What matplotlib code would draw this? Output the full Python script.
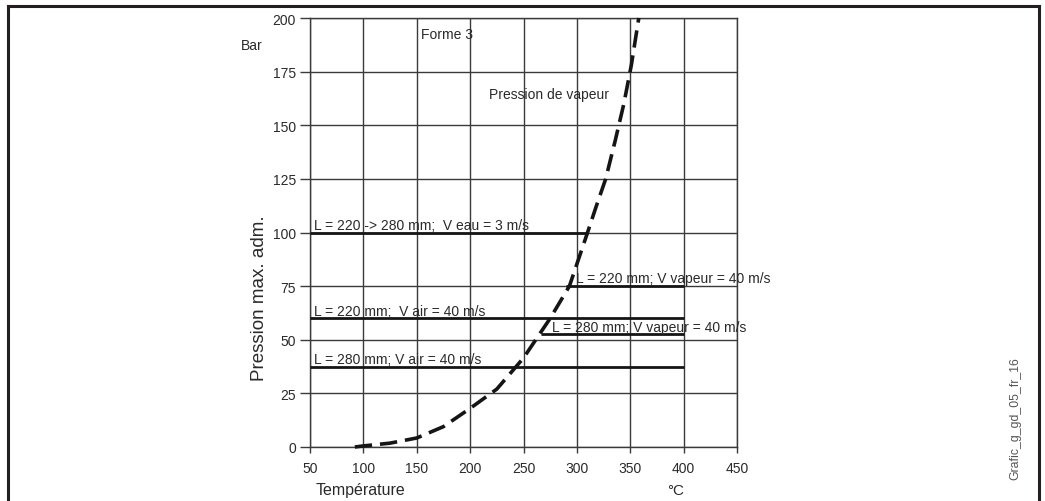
import matplotlib
matplotlib.use("Agg")
import matplotlib.pyplot as plt
from matplotlib.lines import Line2D

plt.rcParams['font.family'] = ['Liberation Sans', 'DejaVu Sans']

# ---- data ----
x_ticks = [50, 100, 150, 200, 250, 300, 350, 400, 450]
y_ticks = [0, 25, 50, 75, 100, 125, 150, 175, 200]

# vapour pressure curve
vap_temp = [92, 100, 125, 150, 175, 200, 225, 250, 275, 293, 310, 318, 327, 336, 344, 351, 358]
vap_pres = [0, 0.5, 1.8, 4.2, 9.5, 18, 27, 41.5, 60, 75, 100, 112, 125, 143, 160, 178, 200]

# horizontal limit lines: (start temp, end temp, pressure, label)
lim_start = [50, 290, 50, 266, 50]
lim_end = [310, 400, 400, 400, 400]
lim_pres = [100, 75, 60, 52.5, 37.5]
lim_labels = ["L = 220 -> 280 mm;  V eau = 3 m/s",
              "L = 220 mm; V vapeur = 40 m/s",
              "L = 220 mm;  V air = 40 m/s",
              "L = 280 mm; V vapeur = 40 m/s",
              "L = 280 mm; V air = 40 m/s"]
lim_label_x = [54, 299, 54, 277, 54]

W, H = 1045, 502
fig = plt.figure(figsize=(W / 100, H / 100), dpi=100)
ax = fig.add_axes([310 / W, 1 - 448 / H, 427 / W, 429 / H])

grid_c = '#3a3a3a'
txt_c = '#2a2a2a'
fs = 10

ax.set_xlim(50, 450)
ax.set_ylim(0, 200)
ax.set_xticks(x_ticks)
ax.set_yticks(y_ticks)
ax.grid(True, color=grid_c, linewidth=1.0)
ax.set_axisbelow(True)
for s in ax.spines.values():
    s.set_color(grid_c)
    s.set_linewidth(1.0)
ax.tick_params(axis='y', length=7, width=1.0, color=grid_c, pad=3,
               labelsize=fs, labelcolor=txt_c)
ax.tick_params(axis='x', length=4, width=1.0, color=grid_c, pad=6,
               labelsize=fs, labelcolor=txt_c)

for xs, xe, p, lab, lx in zip(lim_start, lim_end, lim_pres, lim_labels, lim_label_x):
    ax.plot([xs, xe], [p, p], color='#151515', linewidth=2.0, solid_capstyle='butt', zorder=3)
    ax.text(lx, p + 0.3, lab, fontsize=fs, color=txt_c, ha='left', va='bottom', zorder=4)

ax.plot(vap_temp, vap_pres, color='#151515', linewidth=2.6,
        dashes=(4.8, 2.2), zorder=5, clip_on=False)

ax.text(154, 192.5, "Forme 3", fontsize=fs, color=txt_c, ha='left', va='center')
ax.text(218, 164.5, "Pression de vapeur", fontsize=fs, color=txt_c, ha='left', va='center')

fig.text(252 / W, 1 - 46 / H, "Bar", fontsize=fs, color=txt_c, ha='center', va='center')
fig.text(259 / W, 1 - 298 / H, "Pression max. adm.", fontsize=13.5, color=txt_c,
         ha='center', va='center', rotation=90)
fig.text(360 / W, 1 - 491 / H, "Température", fontsize=11.5, color=txt_c, ha='center', va='center')
fig.text(676 / W, 1 - 491 / H, "°C", fontsize=11, color=txt_c, ha='center', va='center')
fig.text(1015 / W, 1 - 419 / H, "Grafic_g_gd_05_fr_16", fontsize=8.8, color='#555555',
         ha='center', va='center', rotation=90)

# outer frame (top, left, right)
fc = '#231f20'
lw = 2.2
fig.add_artist(Line2D([8 / W, 1039 / W], [1 - 7 / H, 1 - 7 / H], transform=fig.transFigure, color=fc, linewidth=lw))
fig.add_artist(Line2D([8 / W, 8 / W], [0, 1 - 7 / H], transform=fig.transFigure, color=fc, linewidth=lw))
fig.add_artist(Line2D([1039 / W, 1039 / W], [0, 1 - 7 / H], transform=fig.transFigure, color=fc, linewidth=lw))

fig.savefig("out.png", dpi=100)
